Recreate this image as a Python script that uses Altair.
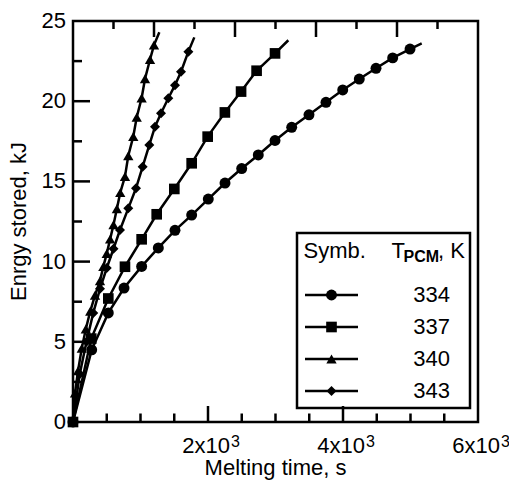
import altair as alt
import pandas as pd

FONT = "Liberation Sans"

# ---- data ----
series_names = ["334", "337", "340", "343"]
series_shapes = ["circle", "square", "triangle-up", "diamond"]
series_sizes = [120, 100, 150, 140]

t334 = [0, 277, 523, 756, 1017, 1264, 1511, 1758, 2004, 2252, 2499, 2745, 2993,
        3240, 3496, 3748, 3996, 4241, 4489, 4736, 4993]
e334 = [0, 4.5, 6.8, 8.35, 9.7, 10.85, 11.95, 12.9, 13.9, 14.9, 15.8, 16.65, 17.55,
        18.37, 19.15, 19.93, 20.7, 21.38, 22.05, 22.7, 23.25]
end334 = (5166, 23.6)

t337 = [0, 270, 523, 770, 1017, 1240, 1501, 1758, 1995, 2250, 2490, 2720, 2993]
e337 = [0, 5.2, 7.7, 9.68, 11.39, 12.95, 14.53, 16.13, 17.79, 19.3, 20.6, 21.9, 22.98]
end337 = (3190, 23.8)

t340 = [0, 30, 75, 130, 190, 255, 326, 400, 450, 500, 550, 600, 650, 700, 770,
        819, 893, 944, 1017, 1067, 1141, 1200]
e340 = [0, 1.8, 3.2, 4.6, 5.8, 6.9, 7.9, 8.8, 9.7, 10.5, 11.4, 12.3, 13.3, 14.3, 15.3,
        16.6, 17.8, 19.0, 20.2, 21.4, 22.6, 23.5]
end340 = (1279, 24.3)

t343 = [0, 100, 200, 300, 400, 500, 600, 696, 819, 933, 1032, 1131, 1215, 1304,
        1412, 1511, 1600, 1709]
e343 = [0, 3.0, 5.0, 6.8, 8.3, 9.6, 10.8, 11.97, 13.32, 14.57, 15.92, 17.27, 18.41,
        19.25, 20.18, 21.0, 21.84, 23.09]
end343 = (1797, 23.98)

# axis ticks and labels
x_major = [2000, 4000]
x_minor = [500, 1000, 1500, 2500, 3000, 3500, 4500, 5000, 5500]
top_major = [1200, 2400, 3600, 4800]
top_minor = [600, 1800, 3000, 4200, 5400]
y_major = [5, 10, 15, 20]
y_minor = [2.5, 7.5, 12.5, 17.5, 22.5]
y_labels = [0, 5, 10, 15, 20, 25]
x_label_vals = [2000, 4000, 6000]
x_label_mant = ["2x10", "4x10", "6x10"]
x_label_exp = ["3", "3", "3"]
x_title = "Melting time, s"
y_title = "Enrgy stored, kJ"

X_MIN, X_MAX, Y_MIN, Y_MAX = 0, 6000, 0, 25
W, H = 405, 401
px_x = (X_MAX - X_MIN) / W   # data units per pixel
px_y = (Y_MAX - Y_MIN) / H

# ---- one table: the four curves plus the inward tick segments ----
rows = []
order = 0
for name, ts, es, end in [("334", t334, e334, end334), ("337", t337, e337, end337),
                          ("340", t340, e340, end340), ("343", t343, e343, end343)]:
    for t, e in zip(ts, es):
        rows.append(dict(series=name, t=t, E=e, marker=True, order=order))
        order += 1
    rows.append(dict(series=name, t=end[0], E=end[1], marker=False, order=order))
    order += 1

def add_x(vals, base, length, tag):
    global order
    for v in vals:
        k = f"tick_{tag}_{v}"
        rows.append(dict(series=k, t=v, E=base, marker=False, order=order)); order += 1
        rows.append(dict(series=k, t=v, E=base + length, marker=False, order=order)); order += 1

def add_y(vals, length, tag):
    global order
    for v in vals:
        k = f"tick_{tag}_{v}"
        rows.append(dict(series=k, t=X_MIN, E=v, marker=False, order=order)); order += 1
        rows.append(dict(series=k, t=X_MIN + length, E=v, marker=False, order=order)); order += 1

add_x(x_major, Y_MIN, 16 * px_y, "bM")
add_x(x_minor, Y_MIN, 8.5 * px_y, "bm")
add_x(top_major, Y_MAX, -16 * px_y, "tM")
add_x(top_minor, Y_MAX, -8 * px_y, "tm")
add_y(y_major, 17 * px_x, "lM")
add_y(y_minor, 9 * px_x, "lm")
df = pd.DataFrame(rows)

shape_scale = alt.Scale(domain=series_names, range=series_shapes)
size_scale = alt.Scale(domain=series_names, range=series_sizes)
xs = alt.Scale(domain=[X_MIN, X_MAX], nice=False, zero=False)
ys = alt.Scale(domain=[Y_MIN, Y_MAX], nice=False)

X = lambda f: alt.X(f, axis=None)
Y = lambda f: alt.Y(f, axis=None)

lines = alt.Chart(df).mark_line(color="black", strokeWidth=2.5).encode(
    x=alt.X("t:Q", scale=xs, axis=None), y=alt.Y("E:Q", scale=ys, axis=None),
    detail="series:N", order="order:Q",
)
points = alt.Chart(df).transform_filter("datum.marker").mark_point(
    filled=True, color="black", opacity=1).encode(
    x=X("t:Q"), y=Y("E:Q"),
    shape=alt.Shape("series:N", scale=shape_scale, legend=None),
    size=alt.Size("series:N", scale=size_scale, legend=None),
)

txt = dict(font=FONT, color="black")
ylab = alt.Chart(pd.DataFrame({"lv": y_labels})).mark_text(
    align="right", baseline="middle", dx=-7, fontSize=22, **txt).encode(
    y=Y("lv:Q"), x=alt.value(0), text="lv:Q")

xlab_df = pd.DataFrame({"lx": x_label_vals, "m": x_label_mant, "p": x_label_exp})
xlab_main = alt.Chart(xlab_df).mark_text(align="right", baseline="alphabetic", dx=22,
                                         fontSize=22, **txt).encode(
    x=X("lx:Q"), y=alt.value(432), text="m:N")
xlab_exp = alt.Chart(xlab_df).mark_text(align="left", baseline="alphabetic", dx=23,
                                        fontSize=16, **txt).encode(
    x=X("lx:Q"), y=alt.value(426), text="p:N")

one = pd.DataFrame({"a0": [0]})
xtitle = alt.Chart(one).mark_text(text=x_title, align="center", baseline="alphabetic",
                                  fontSize=22, **txt).encode(
    x=alt.value(W / 2), y=alt.value(454))
ytitle = alt.Chart(one).mark_text(text=y_title, align="center", baseline="alphabetic",
                                  angle=270, fontSize=22, **txt).encode(
    x=alt.value(-47), y=alt.value(H / 2))

# ---- legend (manual) ----
leg_box = alt.Chart(one).mark_rect(fill="white", stroke="black", strokeWidth=2.5).encode(
    x=alt.value(224), x2=alt.value(397), y=alt.value(212), y2=alt.value(387))
hdr_symb = alt.Chart(one).mark_text(text="Symb.", align="left", baseline="alphabetic",
                                    fontSize=22, **txt).encode(
    x=alt.value(230.5), y=alt.value(236.5))
hdr_t = alt.Chart(one).mark_text(text="T", align="left", baseline="alphabetic",
                                 fontSize=22, **txt).encode(
    x=alt.value(318.5), y=alt.value(236.5))
hdr_pcm = alt.Chart(one).mark_text(text="PCM", align="left", baseline="alphabetic",
                                   fontSize=16, fontWeight="bold", **txt).encode(
    x=alt.value(330.5), y=alt.value(241))
hdr_k = alt.Chart(one).mark_text(text=", K", align="left", baseline="alphabetic",
                                 fontSize=22, **txt).encode(
    x=alt.value(365), y=alt.value(236.5))

leg_df = pd.DataFrame({"series": series_names,
                       "ypix": [274 + 32 * i for i in range(len(series_names))]})
leg_lines = alt.Chart(leg_df).mark_rule(color="black", strokeWidth=2.5).encode(
    x=alt.value(232), x2=alt.value(285), y=alt.Y("ypix:Q", scale=None, axis=None))
leg_pts = alt.Chart(leg_df).mark_point(filled=True, color="black", opacity=1).encode(
    x=alt.value(258.5), y=alt.Y("ypix:Q", scale=None, axis=None),
    shape=alt.Shape("series:N", scale=shape_scale, legend=None),
    size=alt.Size("series:N", scale=size_scale, legend=None))
leg_txt = alt.Chart(leg_df).mark_text(align="right", baseline="middle", fontSize=22,
                                      **txt).encode(
    x=alt.value(377), y=alt.Y("ypix:Q", scale=None, axis=None), text="series:N")

chart = alt.layer(
    ylab, xlab_main, xlab_exp, xtitle, ytitle,
    leg_box, hdr_symb, hdr_t, hdr_pcm, hdr_k, leg_lines, leg_pts, leg_txt,
    lines, points,
).properties(
    width=W, height=H,
    padding={"left": 73, "top": 21, "right": 31, "bottom": 58},
    autosize=alt.AutoSizeParams(type="none"),
    background="white",
).configure_view(stroke="black", strokeWidth=2.5)

chart.save("out.html", embed_options={"renderer": "svg", "actions": False})
